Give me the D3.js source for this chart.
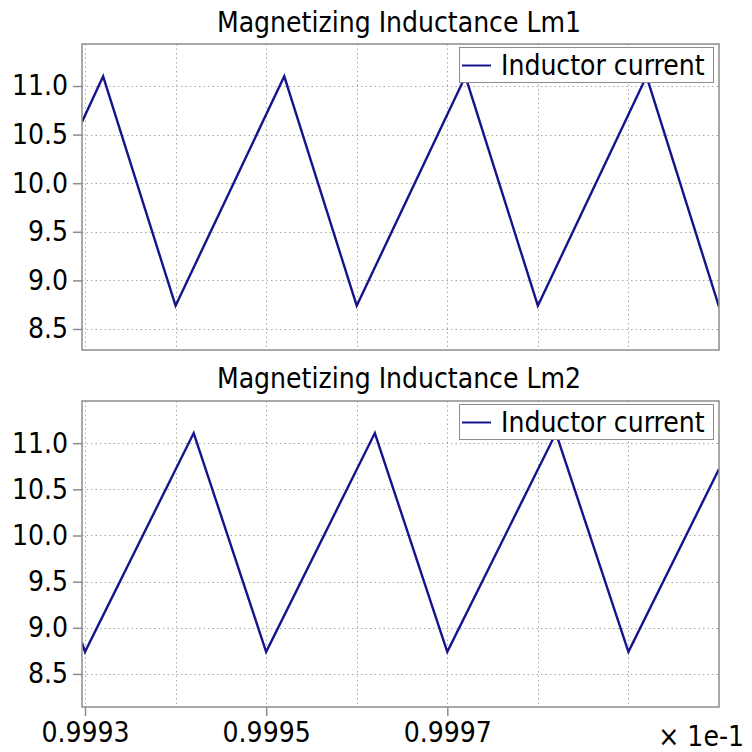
<!DOCTYPE html>
<html>
<head>
<meta charset="utf-8">
<script src="https://cdn.jsdelivr.net/npm/d3@7/dist/d3.min.js"></script>
<style>
  html, body { margin: 0; padding: 0; background: #ffffff; }
  svg { display: block; }
  text { font-family: "DejaVu Sans Condensed", "DejaVu Sans", Verdana, sans-serif; fill: #000; }
</style>
</head>
<body>
<svg id="chart" width="752" height="752"></svg>
<script>
// Time axis values (scaled by 1e-1) and inductor current for each magnetizing inductance
const timeLm1    = [0.99929667, 0.99932, 0.9994, 0.99952, 0.9996, 0.99972, 0.9998, 0.99992, 1.0];
const currentLm1 = [10.63, 11.10, 8.74, 11.10, 8.74, 11.10, 8.74, 11.10, 8.73];

const timeLm2    = [0.99929667, 0.9993, 0.99942, 0.9995, 0.99962, 0.9997, 0.99982, 0.9999, 1.0];
const currentLm2 = [8.84, 8.74, 11.11, 8.74, 11.11, 8.74, 11.11, 8.74, 10.72];

const titles      = ["Magnetizing Inductance Lm1", "Magnetizing Inductance Lm2"];
const legendLabel = "Inductor current";

const xDomain     = [0.99929667, 1.0];
const xGridTicks  = [0.9993, 0.9994, 0.9995, 0.9996, 0.9997, 0.9998, 0.9999];
const xLabelTicks = [0.9993, 0.9995, 0.9997];
const xScaleNote  = "\u00d7 1e-1";
const yTicks      = [8.5, 9.0, 9.5, 10.0, 10.5, 11.0];
const yDomainLm1  = [8.284, 11.432];
const yDomainLm2  = [8.142, 11.457];

const svg = d3.select("#chart");
const FS = 28;
const FONT = '"DejaVu Sans Condensed", "DejaVu Sans", Verdana, sans-serif';
const lineColor = "#14148c";
const frameColor = "#8c8c8c";
const gridColor = "#a8a8a8";

const panels = [
  { top: 44,  bottom: 350, time: timeLm1, current: currentLm1, yDomain: yDomainLm1, title: titles[0], titleY: 32,  xAxis: false },
  { top: 401, bottom: 707, time: timeLm2, current: currentLm2, yDomain: yDomainLm2, title: titles[1], titleY: 388, xAxis: true }
];
const left = 82, right = 719;

panels.forEach((p, idx) => {
  const g = svg.append("g");
  const x = d3.scaleLinear().domain(xDomain).range([left, right]);
  const y = d3.scaleLinear().domain(p.yDomain).range([p.bottom, p.top]);

  const clipId = "clip" + idx;
  svg.append("clipPath").attr("id", clipId)
    .append("rect").attr("x", left).attr("y", p.top)
    .attr("width", right - left).attr("height", p.bottom - p.top);

  // grid
  const grid = g.append("g").attr("clip-path", `url(#${clipId})`);
  grid.selectAll("line.vg").data(xGridTicks).join("line")
    .attr("x1", d => Math.round(x(d)) + 0.5).attr("x2", d => Math.round(x(d)) + 0.5)
    .attr("y1", p.top).attr("y2", p.bottom)
    .attr("stroke", gridColor).attr("stroke-width", 1).attr("stroke-dasharray", "1.5,3");
  grid.selectAll("line.hg").data(yTicks).join("line")
    .attr("y1", d => Math.round(y(d)) + 0.5).attr("y2", d => Math.round(y(d)) + 0.5)
    .attr("x1", left).attr("x2", right)
    .attr("stroke", gridColor).attr("stroke-width", 1).attr("stroke-dasharray", "1.5,3");

  // data line
  const pts = p.time.map((t, i) => [t, p.current[i]]);
  g.append("path")
    .attr("clip-path", `url(#${clipId})`)
    .attr("d", d3.line().x(d => x(d[0])).y(d => y(d[1]))(pts))
    .attr("fill", "none").attr("stroke", lineColor).attr("stroke-width", 2.4)
    .attr("stroke-linejoin", "miter");

  // y axis
  const yAxis = d3.axisLeft(y).tickValues(yTicks).tickFormat(d3.format(".1f"))
    .tickSize(9).tickPadding(5);
  const ya = g.append("g").attr("transform", `translate(${left},0)`).call(yAxis);
  ya.select(".domain").remove();
  ya.selectAll(".tick line").attr("stroke", frameColor).attr("stroke-width", 1.5);
  ya.selectAll(".tick text").attr("font-size", FS).attr("fill", "#000")
    .style("font-family", FONT);

  // x axis
  if (p.xAxis) {
    const xAxis = d3.axisBottom(x).tickValues(xLabelTicks).tickFormat(d3.format(".4f"))
      .tickSize(9).tickPadding(6);
    const xa = g.append("g").attr("transform", `translate(0,${p.bottom})`).call(xAxis);
    xa.select(".domain").remove();
    xa.selectAll(".tick line").attr("stroke", frameColor).attr("stroke-width", 1.5);
    xa.selectAll(".tick text").attr("font-size", FS).attr("fill", "#000")
      .style("font-family", FONT);
    g.append("text").attr("x", 744).attr("y", 746).attr("text-anchor", "end")
      .attr("font-size", FS).text(xScaleNote);
  }

  // frame
  g.append("rect").attr("x", left).attr("y", p.top)
    .attr("width", right - left).attr("height", p.bottom - p.top)
    .attr("fill", "none").attr("stroke", frameColor).attr("stroke-width", 1.5);

  // title
  g.append("text").attr("x", 399).attr("y", p.titleY).attr("text-anchor", "middle")
    .attr("font-size", FS).text(p.title);

  // legend
  const lg = g.append("g").attr("transform", `translate(459,${p.top + 3})`);
  lg.append("rect").attr("x", 0.5).attr("y", 0.5).attr("width", 254).attr("height", 35)
    .attr("fill", "#fff").attr("stroke", "#8c8c8c").attr("stroke-width", 1);
  lg.append("line").attr("x1", 3).attr("x2", 32).attr("y1", 18.5).attr("y2", 18.5)
    .attr("stroke", lineColor).attr("stroke-width", 2);
  lg.append("text").attr("x", 42).attr("y", 28).attr("font-size", FS).text(legendLabel);
});
</script>
</body>
</html>
